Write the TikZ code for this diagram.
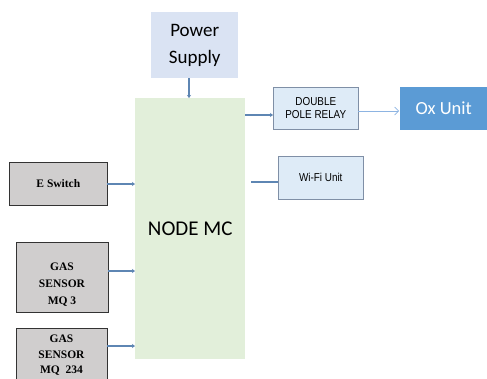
\documentclass[tikz,border=0pt]{standalone}
\usepackage{fontspec}
\setmainfont{Liberation Serif}
\newfontfamily\calfont{Carlito}
\newfontfamily\arialfont[FakeStretch=0.86]{Liberation Sans}
\usetikzlibrary{arrows.meta}
\definecolor{psfill}{HTML}{DAE3F3}
\definecolor{mcfill}{HTML}{E2EFDA}
\definecolor{relfill}{HTML}{DEEBF7}
\definecolor{relborder}{HTML}{7F8FA6}
\definecolor{oxfill}{HTML}{5B9BD5}
\definecolor{grayfill}{HTML}{D0CECE}
\definecolor{arrowblue}{HTML}{5E86B3}
\definecolor{thinblue}{HTML}{8DB4E2}
\tikzset{
  x=1pt, y=-1pt,
  plainbox/.style={anchor=north west, inner sep=0pt, align=center},
  relaybox/.style={plainbox, fill=relfill, draw=relborder, line width=0.6pt, font=\arialfont\fontsize{11.5}{13}\selectfont},
  graybox/.style={plainbox, fill=grayfill, draw=black!80, line width=0.7pt, font=\bfseries\fontsize{11.5}{17}\selectfont},
  graytext/.style={align=center, inner sep=0pt, font=\bfseries\fontsize{11.5}{17}\selectfont},
  conn/.style={draw=arrowblue, line width=1.8pt, -{Stealth[length=3pt,width=4pt]}},
  connthin/.style={draw=thinblue, line width=0.7pt, -{Straight Barb[length=4pt,width=8pt]}}
}
\begin{document}
\begin{tikzpicture}
\useasboundingbox (0,0) rectangle (487,378);
\clip (0,0) rectangle (487,378);
\node[plainbox, fill=psfill, minimum width=87pt, minimum height=66pt, font=\calfont\fontsize{19}{27}\selectfont] (ps) at (151,12) {Power\\Supply};
\node[plainbox, fill=mcfill, minimum width=110pt, minimum height=261pt, font=\calfont\fontsize{21}{24}\selectfont] (mc) at (135,98) {NODE MC};
\node[relaybox, minimum width=85pt, minimum height=42pt] (relay) at (273,87) {DOUBLE\\POLE RELAY};
\node[plainbox, fill=oxfill, minimum width=87pt, minimum height=43pt, text=white, font=\calfont\fontsize{18.5}{22}\selectfont] (ox) at (400,87) {Ox Unit};
\node[relaybox, minimum width=85pt, minimum height=43pt] (wifi) at (278,156) {Wi-Fi Unit};
\node[graybox, minimum width=98pt, minimum height=43pt] (es) at (9,162) {E Switch};
\node[graybox, minimum width=92pt, minimum height=70pt] (g3) at (16,242) {};
\node[graytext] (g3t) at (62,285) {GAS\\SENSOR\\MQ 3};
\node[graybox, minimum width=91pt, minimum height=72pt] (g234) at (16,328) {};
\node[graytext, font=\bfseries\fontsize{11.5}{15.5}\selectfont, anchor=north] (g234t) at (61.5,335) {GAS\\SENSOR\\MQ\ \ 234};
\coordinate (psout) at (189,78);
\coordinate (mctop) at (189,98);
\draw[conn] (psout) -- (mctop);
\coordinate (mcr1) at (245,115);
\coordinate (rel1) at (273,115);
\draw[conn] (mcr1) -- (rel1);
\coordinate (rel2) at (358,111);
\coordinate (ox2) at (399,111);
\draw[connthin] (rel2) -- (ox2);
\coordinate (wstart) at (251,182);
\coordinate (wend) at (278,182);
\draw[draw=arrowblue, line width=1.8pt] (wstart) -- (wend);
\coordinate (es1) at (107,184);
\coordinate (mc1) at (135,184);
\draw[conn] (es1) -- (mc1);
\coordinate (g31) at (108,271);
\coordinate (mc2) at (135,271);
\draw[conn] (g31) -- (mc2);
\coordinate (g2341) at (107,346);
\coordinate (mc3) at (135,346);
\draw[conn] (g2341) -- (mc3);
\end{tikzpicture}
\end{document}
